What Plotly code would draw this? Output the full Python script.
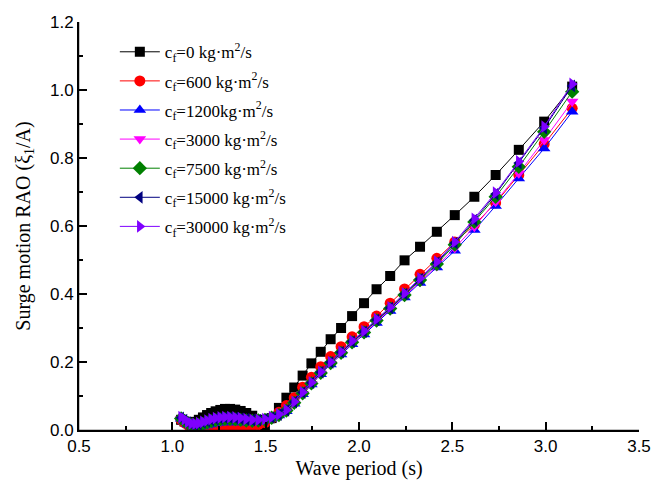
import plotly.graph_objects as go

period = [1.047, 1.065, 1.083, 1.102, 1.122, 1.142, 1.164, 1.186, 1.208, 1.232,
          1.257, 1.282, 1.309, 1.337, 1.366, 1.396, 1.428, 1.461, 1.496, 1.532,
          1.571, 1.611, 1.653, 1.698, 1.745, 1.795, 1.848, 1.904, 1.963, 2.027,
          2.094, 2.167, 2.244, 2.327, 2.417, 2.513, 2.618, 2.732, 2.856, 2.992,
          3.142]

rao_0 = [0.030, 0.025, 0.020, 0.020, 0.024, 0.030, 0.037, 0.044, 0.050, 0.055,
         0.059, 0.062, 0.062, 0.060, 0.056, 0.050, 0.042, 0.030, 0.014, 0.035,
         0.065, 0.095, 0.125, 0.160, 0.196, 0.230, 0.267, 0.300, 0.335, 0.373,
         0.414, 0.453, 0.499, 0.539, 0.583, 0.632, 0.686, 0.750, 0.824, 0.907,
         1.010]
rao_600 = [0.030, 0.022, 0.015, 0.010, 0.008, 0.007, 0.006, 0.005, 0.005, 0.004,
           0.004, 0.003, 0.003, 0.003, 0.004, 0.006, 0.010, 0.016, 0.022, 0.035,
           0.052, 0.072, 0.095, 0.126, 0.155, 0.186, 0.216, 0.245, 0.274, 0.304,
           0.335, 0.373, 0.415, 0.458, 0.505, 0.553, 0.603, 0.668, 0.750, 0.841,
           0.946]
rao_1200 = [0.033, 0.025, 0.016, 0.010, 0.008, 0.008, 0.010, 0.013, 0.016, 0.019,
            0.021, 0.022, 0.022, 0.022, 0.022, 0.022, 0.023, 0.025, 0.028, 0.034,
            0.043, 0.055, 0.077, 0.105, 0.134, 0.164, 0.193, 0.222, 0.252, 0.281,
            0.315, 0.350, 0.390, 0.432, 0.478, 0.527, 0.588, 0.659, 0.740, 0.828,
            0.936]
rao_3000 = [0.032, 0.025, 0.017, 0.012, 0.010, 0.011, 0.014, 0.017, 0.021, 0.024,
            0.026, 0.027, 0.027, 0.027, 0.026, 0.025, 0.025, 0.026, 0.029, 0.035,
            0.043, 0.056, 0.078, 0.106, 0.135, 0.166, 0.195, 0.224, 0.255, 0.284,
            0.318, 0.353, 0.393, 0.436, 0.482, 0.535, 0.598, 0.671, 0.755, 0.853,
            0.966]
rao_7500 = [0.034, 0.027, 0.020, 0.015, 0.013, 0.015, 0.018, 0.022, 0.026, 0.029,
            0.031, 0.032, 0.032, 0.031, 0.030, 0.028, 0.027, 0.028, 0.030, 0.036,
            0.044, 0.057, 0.080, 0.108, 0.137, 0.168, 0.197, 0.227, 0.258, 0.287,
            0.322, 0.357, 0.397, 0.441, 0.488, 0.545, 0.612, 0.686, 0.774, 0.877,
            0.995]
rao_15000 = [0.036, 0.029, 0.022, 0.017, 0.016, 0.018, 0.022, 0.026, 0.030, 0.033,
             0.035, 0.036, 0.036, 0.035, 0.033, 0.031, 0.029, 0.029, 0.031, 0.037,
             0.045, 0.058, 0.082, 0.110, 0.139, 0.170, 0.199, 0.229, 0.260, 0.289,
             0.324, 0.359, 0.400, 0.444, 0.492, 0.550, 0.617, 0.694, 0.785, 0.888,
             1.012]
rao_30000 = [0.038, 0.031, 0.024, 0.019, 0.018, 0.020, 0.024, 0.028, 0.032, 0.035,
             0.037, 0.038, 0.038, 0.037, 0.035, 0.032, 0.030, 0.030, 0.032, 0.038,
             0.046, 0.059, 0.083, 0.111, 0.140, 0.171, 0.200, 0.230, 0.262, 0.291,
             0.326, 0.361, 0.402, 0.446, 0.495, 0.553, 0.621, 0.698, 0.790, 0.892,
             1.018]

labels = ["c<sub>f</sub>=0 kg·m<sup>2</sup>/s",
          "c<sub>f</sub>=600 kg·m<sup>2</sup>/s",
          "c<sub>f</sub>=1200kg·m<sup>2</sup>/s",
          "c<sub>f</sub>=3000 kg·m<sup>2</sup>/s",
          "c<sub>f</sub>=7500 kg·m<sup>2</sup>/s",
          "c<sub>f</sub>=15000 kg·m<sup>2</sup>/s",
          "c<sub>f</sub>=30000 kg·m<sup>2</sup>/s"]
series = [rao_0, rao_600, rao_1200, rao_3000, rao_7500, rao_15000, rao_30000]
colors = ["#000000", "#FF0000", "#0000FF", "#FF00FF", "#008000", "#000080", "#7F00FF"]
symbols = ["square", "circle", "triangle-up", "triangle-down", "diamond",
           "triangle-left", "triangle-right"]
sizes = [10, 11, 11, 11, 11, 11, 11]

fig = go.Figure()
for i, (lab, ys, c, s, sz) in enumerate(zip(labels, series, colors, symbols, sizes)):
    fig.add_trace(go.Scatter(
        x=period, y=ys, name=lab, mode="lines+markers",
        line=dict(color=c, width=1),
        marker=dict(symbol=s, size=sz, color=c, line=dict(width=0)),
        legendgroup=f"g{i}",
    ))

font_sans = dict(family="Liberation Sans, Arial", size=17, color="black")
font_serif_title = dict(family="Liberation Serif, Times New Roman", size=20, color="black")

# page body has an 8px default margin, so the figure is sized to fit the window
fig.update_layout(
    template="simple_white",
    width=652, height=484,
    margin=dict(l=71, r=21, t=14, b=62),
    paper_bgcolor="white", plot_bgcolor="white",
    showlegend=True,
    legend=dict(
        x=0.064, y=0.97, xanchor="left", yanchor="top",
        bgcolor="rgba(0,0,0,0)", borderwidth=0,
        font=dict(family="Liberation Serif, Times New Roman", size=17, color="black"),
        tracegroupgap=4, itemwidth=40,
    ),
)
fig.update_xaxes(
    range=[0.5, 3.5], dtick=0.5, tick0=0.5, tickformat=".1f",
    showline=True, linecolor="black", linewidth=2, mirror=False,
    ticks="inside", ticklen=8, tickwidth=2, tickcolor="black",
    showgrid=False, zeroline=False, automargin=False, tickfont=font_sans,
    minor=dict(ticks="inside", ticklen=4, dtick=0.25, tickcolor="black", tickwidth=2, showgrid=False),
    title=dict(text="Wave period (s)", standoff=6, font=font_serif_title),
)
fig.update_yaxes(
    range=[0, 1.2], dtick=0.2, tick0=0, tickformat=".1f",
    showline=True, linecolor="black", linewidth=2, mirror=False,
    ticks="inside", ticklen=8, tickwidth=2, tickcolor="black",
    showgrid=False, zeroline=False, automargin=False, tickfont=font_sans,
    minor=dict(ticks="inside", ticklen=4, dtick=0.1, tickcolor="black", tickwidth=2, showgrid=False),
    title=dict(text="Surge motion RAO (ξ<sub>1</sub>/A)", standoff=14, font=font_serif_title),
)
# axis frame lines (left and bottom) as paper-referenced shapes
fig.add_shape(type="line", xref="paper", yref="paper", x0=0, x1=0, y0=0, y1=1,
              line=dict(color="black", width=1.5), layer="above")
fig.add_shape(type="line", xref="paper", yref="paper", x0=0, x1=1, y0=0, y1=0,
              line=dict(color="black", width=1.5), layer="above")

fig.write_html("out.html")
